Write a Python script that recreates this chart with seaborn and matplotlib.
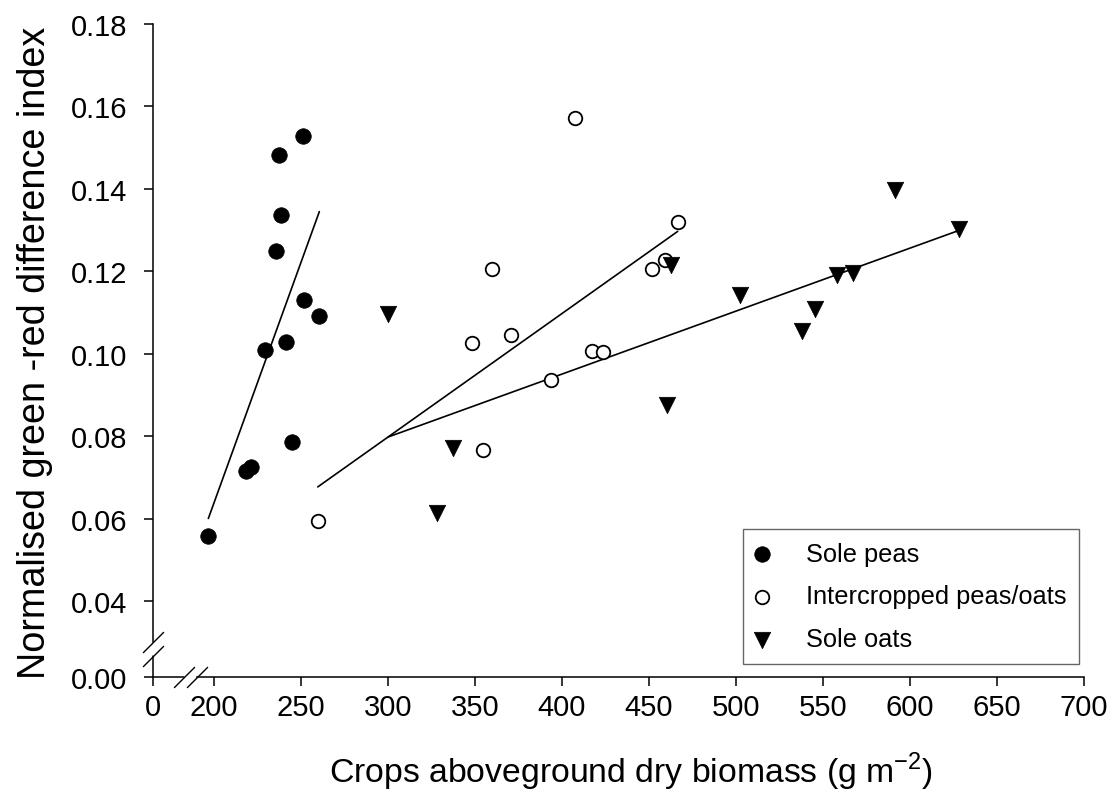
import matplotlib
matplotlib.use("Agg")
import matplotlib.pyplot as plt
import seaborn as sns
import pandas as pd

# ---- data ----
peas_x = [196.7, 218.4, 221.1, 229.3, 235.4, 237.4, 238.3, 241.4, 244.6, 251.3, 251.9, 260.5]
peas_y = [0.0558, 0.0717, 0.0726, 0.1010, 0.1250, 0.1482, 0.1336, 0.1028, 0.0787, 0.1529, 0.1130, 0.1091]

inter_x = [259.6, 348.4, 354.4, 359.6, 370.5, 393.5, 407.5, 417.4, 423.7, 451.5, 459.2, 466.5]
inter_y = [0.0595, 0.1026, 0.0767, 0.1206, 0.1046, 0.0936, 0.1572, 0.1007, 0.1004, 0.1205, 0.1227, 0.1320]

oats_x = [300.2, 328.3, 337.2, 460.2, 462.5, 502.3, 538.1, 545.4, 557.9, 567.4, 591.4, 628.3]
oats_y = [0.1096, 0.0614, 0.0773, 0.0877, 0.1216, 0.1143, 0.1055, 0.1108, 0.1192, 0.1195, 0.1398, 0.1302]

series_labels = ["Sole peas", "Intercropped peas/oats", "Sole oats"]

x_ticks = [200, 250, 300, 350, 400, 450, 500, 550, 600, 650, 700]
y_ticks = [0.04, 0.06, 0.08, 0.10, 0.12, 0.14, 0.16, 0.18]

# broken-axis layout (axis positions standing in for the "0" origins)
X_ORIGIN = 165.1      # where "0" sits on the broken x axis
Y_ORIGIN = 0.02172    # where "0.00" sits on the broken y axis
X_GAP = (182.9, 190.1)
Y_GAP = (0.0267, 0.0301)

sns.set_style("ticks")
plt.rcParams["font.family"] = ["Liberation Sans", "DejaVu Sans"]
plt.rcParams["mathtext.fontset"] = "custom"
plt.rcParams["mathtext.rm"] = "Liberation Sans"
for k in ["text.color", "axes.labelcolor", "xtick.color", "ytick.color", "axes.edgecolor"]:
    plt.rcParams[k] = "black"

fig = plt.figure(figsize=(11.17, 8.04), dpi=100)
ax = fig.add_axes([0.1373, 0.1571, 0.8331, 0.8118])

df_p = pd.DataFrame({"x": peas_x, "y": peas_y})
df_i = pd.DataFrame({"x": inter_x, "y": inter_y})
df_o = pd.DataFrame({"x": oats_x, "y": oats_y})

line_kws = dict(color="black", lw=1.2)
sns.regplot(data=df_p, x="x", y="y", scatter=False, ci=None, ax=ax, line_kws=line_kws)
sns.regplot(data=df_i, x="x", y="y", scatter=False, ci=None, ax=ax, line_kws=line_kws)
sns.regplot(data=df_o, x="x", y="y", scatter=False, ci=None, ax=ax, line_kws=line_kws)

sns.scatterplot(data=df_p, x="x", y="y", ax=ax, marker="o", s=125, color="black",
                edgecolor="black", linewidth=0.5, label=series_labels[0], zorder=3)
sns.scatterplot(data=df_i, x="x", y="y", ax=ax, marker="o", s=95, color="white",
                edgecolor="black", linewidth=1.3, label=series_labels[1], zorder=3)
sns.scatterplot(data=df_o, x="x", y="y", ax=ax, marker="v", s=140, color="black",
                edgecolor="black", linewidth=0.5, label=series_labels[2], zorder=3)

ax.set_xlim(X_ORIGIN, 700)
ax.set_ylim(Y_ORIGIN, 0.18)

ax.set_xticks([X_ORIGIN] + x_ticks)
ax.set_xticklabels(["0"] + [str(t) for t in x_ticks])
ax.set_yticks([Y_ORIGIN] + y_ticks)
ax.set_yticklabels(["0.00"] + [f"{t:.2f}" for t in y_ticks])

ax.tick_params(axis="both", direction="out", length=6.5, width=1.1, colors="black",
               labelsize=21)
ax.tick_params(axis="y", pad=12)
ax.tick_params(axis="x", pad=5)

for s in ["top", "right"]:
    ax.spines[s].set_visible(False)
for s in ["left", "bottom"]:
    ax.spines[s].set_linewidth(1.1)
    ax.spines[s].set_color("black")
ax.spines["bottom"].set_bounds(X_GAP[1], 700)
ax.spines["left"].set_bounds(Y_GAP[1], 0.18)

# stubs below/left of the breaks
ax.plot([X_ORIGIN, X_GAP[0]], [Y_ORIGIN, Y_ORIGIN], color="black", lw=1.1, clip_on=False, zorder=4)
ax.plot([X_ORIGIN, X_ORIGIN], [Y_ORIGIN, Y_GAP[0]], color="black", lw=1.1, clip_on=False, zorder=4)

# break marks
brk = dict(marker=[(-1, -1), (1, 1)], markersize=15, linestyle="none", color="black",
           mec="black", mew=1.0, clip_on=False, zorder=4)
ax.plot([X_GAP[0], X_GAP[1]], [Y_ORIGIN, Y_ORIGIN], **brk)
ax.plot([X_ORIGIN, X_ORIGIN], [Y_GAP[0], Y_GAP[1]], **brk)

ax.set_xlabel("Crops aboveground dry biomass (g m$^{\\mathregular{-2}}$)", fontsize=24.3)
ax.xaxis.set_label_coords(0.513, -0.112)
ax.set_ylabel("Normalised green -red difference index", fontsize=27.2)
ax.yaxis.set_label_coords(-0.108, 0.497)

leg = ax.legend(loc="lower left", bbox_to_anchor=(0.6333, 0.0195), borderaxespad=0,
                frameon=True, fancybox=False, fontsize=18.3, handlelength=0.5,
                handletextpad=1.5, labelspacing=0.74, borderpad=0.5)
leg.get_frame().set_edgecolor("#404040")
leg.get_frame().set_linewidth(1.0)
for t in leg.get_texts():
    t.set_color("black")

fig.savefig("out.png", dpi=100)
